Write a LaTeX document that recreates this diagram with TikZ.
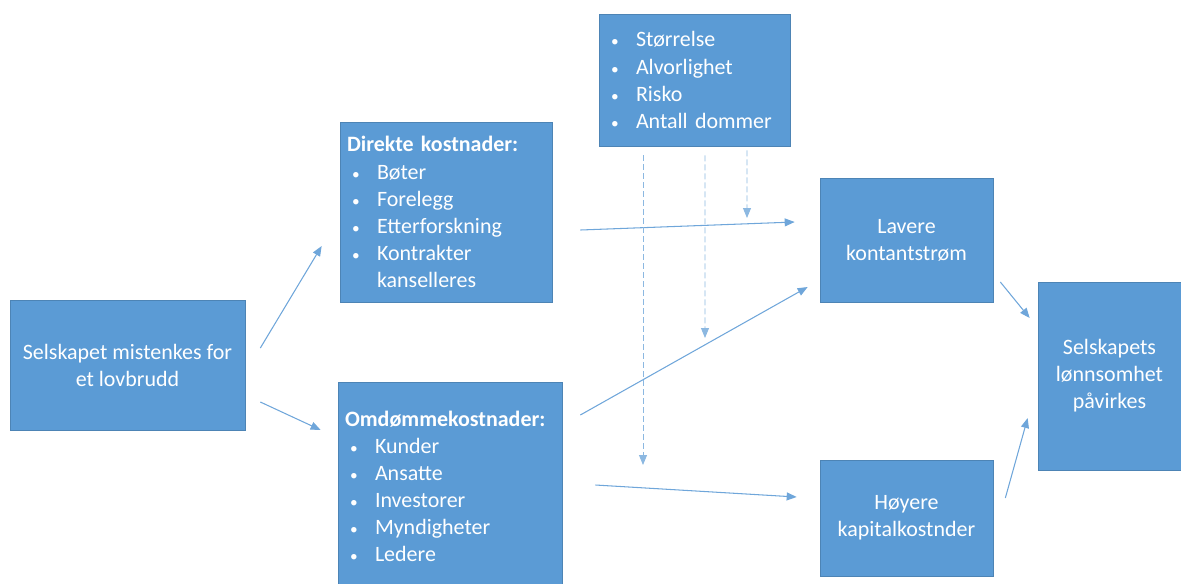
\documentclass[tikz,border=0pt]{standalone}
\usepackage{fontspec}
\setmainfont{Carlito}
\usetikzlibrary{arrows.meta,calc}
\definecolor{boxblue}{HTML}{5B9BD5}
\definecolor{lineblue}{HTML}{6FA6DA}
\newcommand{\itm}[1]{\hspace*{0.1cm}\makebox[0.5cm][l]{\scalebox{0.7}{\textbullet}}#1}

\begin{document}
\begin{tikzpicture}[x=0.02cm, y=-0.02cm, >={Triangle[length=2mm,width=1.6mm]},
	every node/.style={font=\fontsize{12.5}{15.4}\selectfont, text=white},
	box/.style={fill=boxblue, draw=boxblue!85!black, line width=0.4pt, inner sep=0pt, align=center},
	listbox/.style={box, align=left, inner xsep=0.14cm},
	conn/.style={->, draw=lineblue, line width=0.6pt},
	dconn/.style={conn, draw=lineblue!80, line width=0.5pt, dash pattern=on 0.12cm off 0.06cm}]
	\useasboundingbox (0,0) rectangle (1181,583);
	\node[box, minimum width=4.7cm, minimum height=2.6cm] (mistanke) at (127.5,365) {Selskapet mistenkes for\\ et lovbrudd};
	\node[listbox, minimum width=4.24cm, minimum height=3.6cm, text width=3.96cm] (direkte) at (446,212) {\textbf{Direkte kostnader:}\\ \itm{Bøter}\\ \itm{Forelegg}\\ \itm{Etterforskning}\\ \itm{Kontrakter}\\ \hspace*{0.6cm}kanselleres};
	\node[listbox, minimum width=4.48cm, minimum height=4.18cm, text width=4.2cm] (omdomme) at (450,486.5) {\textbf{Omdømmekostnader:}\\ \itm{Kunder}\\ \itm{Ansatte}\\ \itm{Investorer}\\ \itm{Myndigheter}\\ \itm{Ledere}};
	\node[listbox, minimum width=3.82cm, minimum height=2.64cm, text width=3.54cm] (faktor) at (694.5,80) {\itm{Størrelse}\\ \itm{Alvorlighet}\\ \itm{Risko}\\ \itm{Antall dommer}};
	\node[box, minimum width=3.46cm, minimum height=2.48cm] (lavere) at (906.5,240) {Lavere\\ kontantstrøm};
	\node[box, minimum width=3.46cm, minimum height=2.32cm] (hoyere) at (906.5,518) {Høyere\\ kapitalkostnder};
	\node[box, minimum width=2.86cm, minimum height=3.76cm] (lonnsom) at (1109.5,376) {Selskapets\\ lønnsomhet\\ påvirkes};

	\draw[conn] ($(mistanke.east)+(15,-17)$) -- ($(direkte.west)+(-18,34)$);
	\draw[conn] ($(mistanke.east)+(15,37)$) -- ($(omdomme.west)+(-17,-56.5)$);
	\draw[conn] ($(direkte.east)+(28,18)$) -- ($(lavere.west)+(-25,-18)$);
	\draw[conn] ($(omdomme.east)+(18,-71.5)$) -- ($(lavere.west)+(-12,47)$);
	\draw[conn] ($(omdomme.east)+(33,-1.5)$) -- ($(hoyere.west)+(-23,-21)$);
	\draw[conn] ($(lavere.east)+(7,42)$) -- ($(lonnsom.west)+(-8,-58)$);
	\draw[conn] ($(hoyere.east)+(12,-20)$) -- ($(lonnsom.west)+(-10,42)$);

	\coordinate (d1) at (643,465);
	\coordinate (d2) at (705,338);
	\coordinate (d3) at (747,218);
	\draw[dconn] ($(faktor.south)+(-51.5,9)$) -- (d1);
	\draw[dconn] ($(faktor.south)+(10.5,9)$) -- (d2);
	\draw[dconn] ($(faktor.south)+(52.5,4)$) -- (d3);
\end{tikzpicture}
\end{document}
